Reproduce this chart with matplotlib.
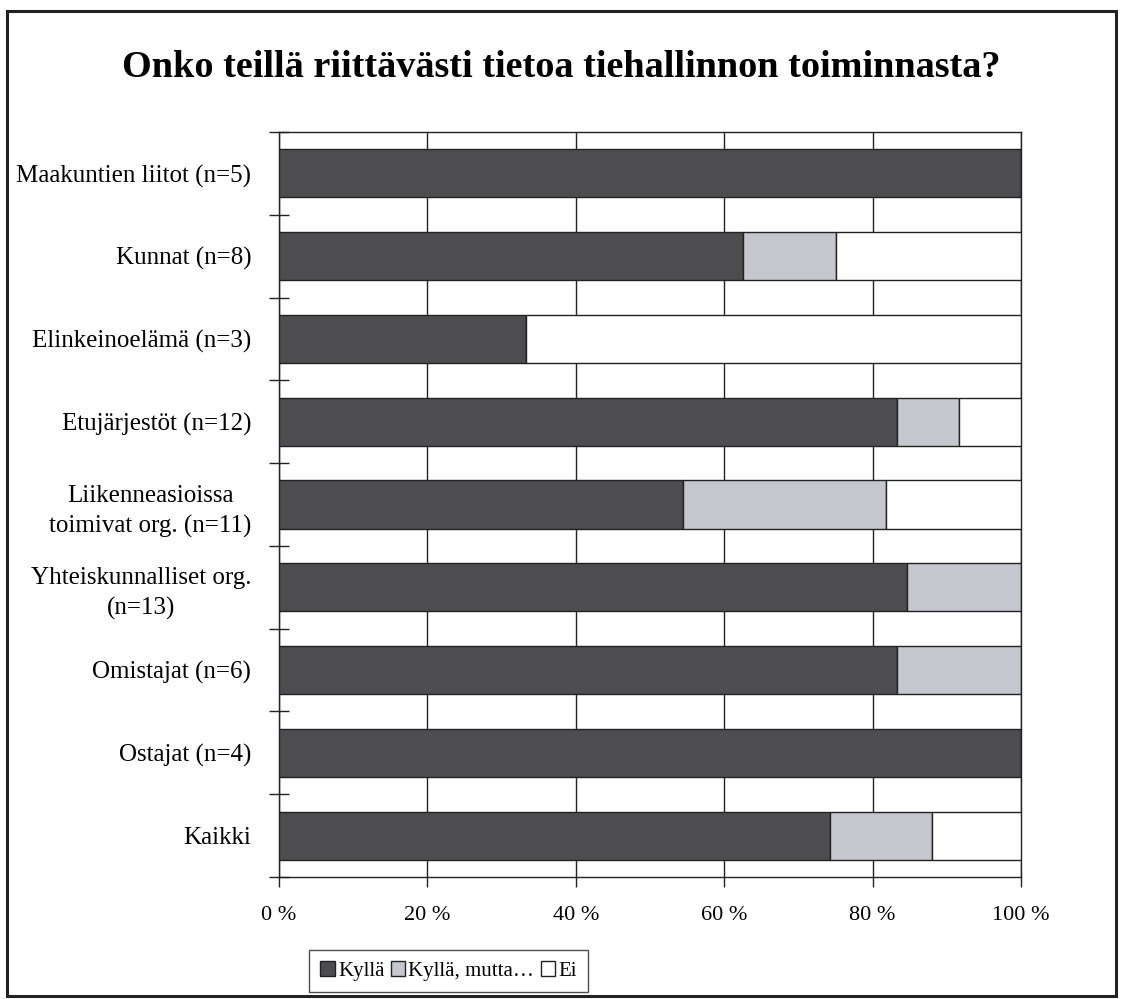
import numpy as np
import matplotlib.pyplot as plt
import matplotlib
from matplotlib.patches import Rectangle
from matplotlib.ticker import FixedLocator, FuncFormatter

matplotlib.rc('font', family=['Liberation Serif', 'DejaVu Serif'])

# answer shares (percent) per respondent group
groups = ['Maakuntien liitot (n=5)', 'Kunnat (n=8)', 'Elinkeinoelämä (n=3)',
          'Etujärjestöt (n=12)', 'Liikenneasioissa\ntoimivat org. (n=11)',
          'Yhteiskunnalliset org.\n(n=13)', 'Omistajat (n=6)', 'Ostajat (n=4)',
          'Kaikki']
kylla = [100.0, 62.5, 33.3, 83.3, 54.5, 84.6, 83.3, 100.0, 74.2]
kylla_mutta = [0.0, 12.5, 0.0, 8.4, 27.3, 15.4, 16.7, 0.0, 13.8]
ei = [0.0, 25.0, 66.7, 8.3, 18.2, 0.0, 0.0, 0.0, 12.0]

series = [('Kyllä', kylla, '#4d4d4f'),
          ('Kyllä, mutta…', kylla_mutta, '#c6c6ce'),
          ('Ei', ei, 'white')]

fig = plt.figure(figsize=(11.24, 9.99), dpi=100)
ax = fig.add_axes([0.2482, 0.1221, 0.6602, 0.7458])

y = np.arange(len(groups))
left = np.zeros(len(groups))
for name, vals, col in series:
    vals = np.array(vals)
    ax.barh(y, vals, left=left, height=0.58, color=col, edgecolor='#222222',
            linewidth=1.0, label=name, zorder=3)
    left += vals

ax.set_xlim(0, 100)
ax.set_ylim(len(groups) - 0.5, -0.5)

ax.set_xticks([0, 20, 40, 60, 80, 100])
ax.xaxis.set_major_formatter(FuncFormatter(lambda v, p: '%d %%' % v))
ax.set_yticks(y)
ax.set_yticklabels(groups, multialignment='center', linespacing=1.45)
ax.yaxis.set_minor_locator(FixedLocator(np.arange(len(groups) + 1) - 0.5))

ax.tick_params(axis='y', which='major', length=0, pad=20, labelsize=18)
ax.tick_params(axis='y', which='minor', direction='inout', length=14,
               width=1, color='#222222')
ax.tick_params(axis='x', which='major', direction='out', length=7,
               width=1, color='#222222', pad=14, labelsize=16)

ax.grid(axis='x', color='#222222', linewidth=1.0, zorder=0)
for s in ax.spines.values():
    s.set_color('#222222')
    s.set_linewidth(1.0)

fig.text(0.499, 0.932, 'Onko teillä riittävästi tietoa tiehallinnon toiminnasta?',
         ha='center', va='center', fontsize=27.5, fontweight='bold')

leg = fig.legend(loc='center', bbox_to_anchor=(0.399, 0.028), ncol=3,
                 fontsize=15, frameon=True, fancybox=False, handlelength=0.7,
                 handleheight=0.7, handletextpad=0.15, columnspacing=0.3,
                 borderpad=0.55, borderaxespad=0)
leg.get_frame().set_edgecolor('#222222')
leg.get_frame().set_linewidth(1.0)

# outer frame around the whole chart
fig.patches.append(Rectangle((0.0065, 0.003), 0.986, 0.986, transform=fig.transFigure,
                             fill=False, edgecolor='#222222', linewidth=2.2))

fig.savefig('out.png', dpi=100)
